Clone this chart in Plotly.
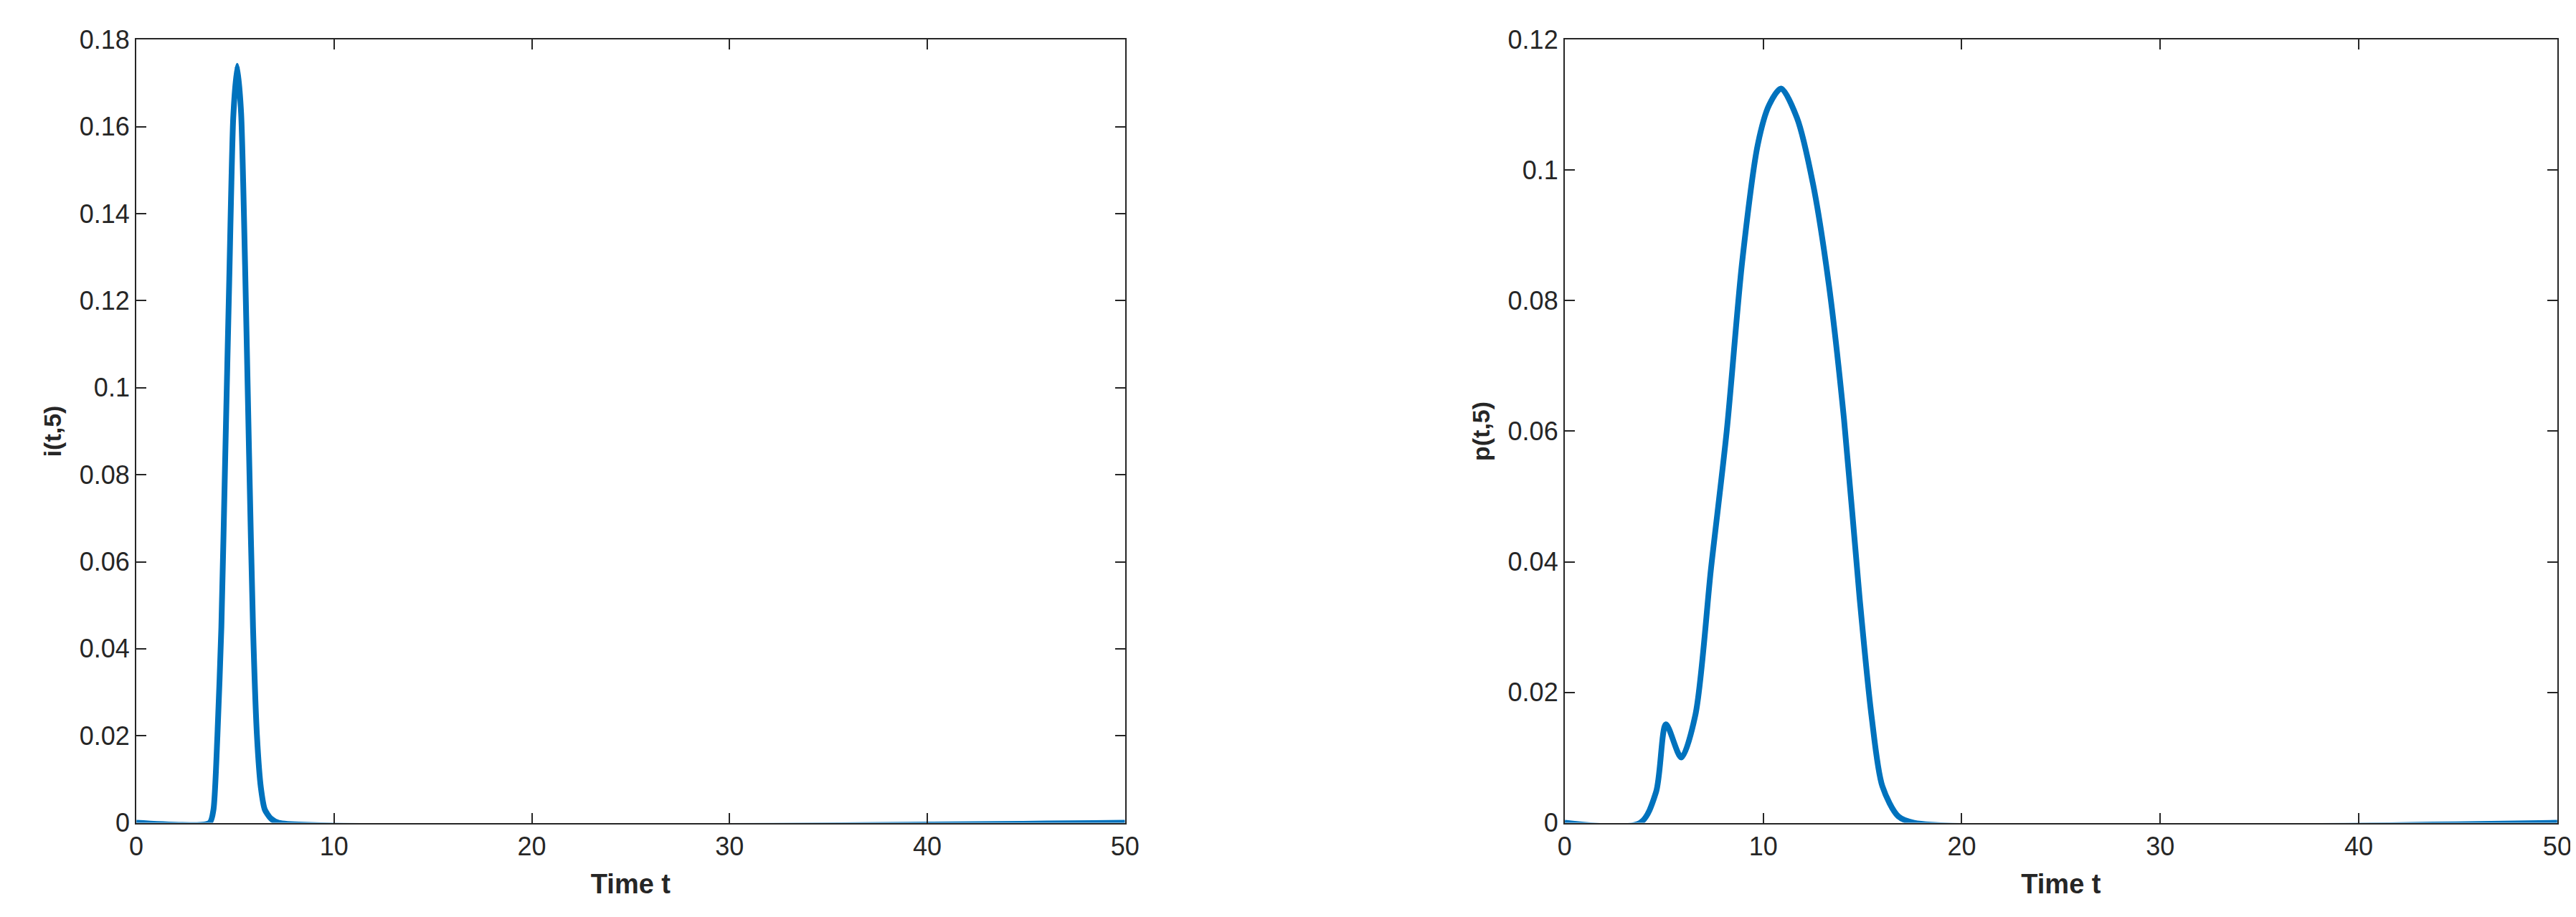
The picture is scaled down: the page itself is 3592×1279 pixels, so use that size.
import plotly.graph_objects as go
from plotly.subplots import make_subplots

t_i = [0, 3.7, 3.9, 4.1, 4.3, 4.5, 4.7, 4.9, 5.1, 5.3, 5.5, 5.7, 5.9, 6.1, 6.3, 6.5, 6.8, 7.2, 50]
v_i = [0, 0, 0.003, 0.02, 0.045, 0.085, 0.125, 0.162, 0.174, 0.163, 0.128, 0.085, 0.045, 0.02, 0.008, 0.003, 0.001, 0, 0]

t_p = [0, 3.8, 4.6, 5.1, 5.87, 6.58, 7.37, 8.16, 8.94, 9.73, 10.3, 10.9, 11.7, 12.5, 13.3, 14.07, 14.85, 15.45, 16.0, 16.8, 17.6, 50]
v_p = [0, 0, 0.0047, 0.0151, 0.010, 0.0165, 0.039, 0.060, 0.086, 0.104, 0.110, 0.1125, 0.108, 0.098, 0.0826, 0.0618, 0.0346, 0.0165, 0.0056, 0.001, 0, 0]

xticks = [0, 10, 20, 30, 40, 50]
yticks_i = [0, 0.02, 0.04, 0.06, 0.08, 0.1, 0.12, 0.14, 0.16, 0.18]
yticks_p = [0, 0.02, 0.04, 0.06, 0.08, 0.1, 0.12]

fig = make_subplots(rows=1, cols=2)
color = "#0072BD"
fig.add_trace(go.Scatter(x=t_i, y=v_i, mode="lines", cliponaxis=False,
                         line=dict(color=color, width=8, shape="spline", smoothing=0.6)), 1, 1)
fig.add_trace(go.Scatter(x=t_p, y=v_p, mode="lines", cliponaxis=False,
                         line=dict(color=color, width=8, shape="spline", smoothing=0.8)), 1, 2)

font = "Liberation Sans Narrow, Liberation Sans, Arial"
ax = dict(showline=True, mirror="ticks", linecolor="#262626", linewidth=2, ticks="inside", ticklen=14,
          tickwidth=2, tickcolor="#262626", showgrid=False, zeroline=False, automargin=False,
          tickfont=dict(family=font, size=36, color="#262626"))
fig.update_xaxes(**ax, range=[0, 50], tickvals=xticks,
                 title=dict(text="<b>Time t</b>", font=dict(family=font, size=38, color="#262626"), standoff=20))
fig.update_yaxes(**ax)
fig.update_layout(
    xaxis=dict(domain=[0.0507, 0.4345]),
    xaxis2=dict(domain=[0.6052, 0.9905]),
    yaxis=dict(domain=[0.109, 0.963], range=[0, 0.18], tickvals=yticks_i, ticktext=[f"{v:g}" for v in yticks_i],
               title=dict(text="<b>i(t,5)</b>", font=dict(family="Liberation Sans, Arial", size=34, color="#262626"), standoff=15)),
    yaxis2=dict(domain=[0.109, 0.963], range=[0, 0.12], tickvals=yticks_p, ticktext=[f"{v:g}" for v in yticks_p],
                title=dict(text="<b>p(t,5)</b>", font=dict(family="Liberation Sans, Arial", size=34, color="#262626"), standoff=15)),
    width=3592, height=1279, margin=dict(l=0, r=0, t=0, b=0, autoexpand=False),
    plot_bgcolor="white", paper_bgcolor="white", showlegend=False,
)
fig.write_html("out.html")
